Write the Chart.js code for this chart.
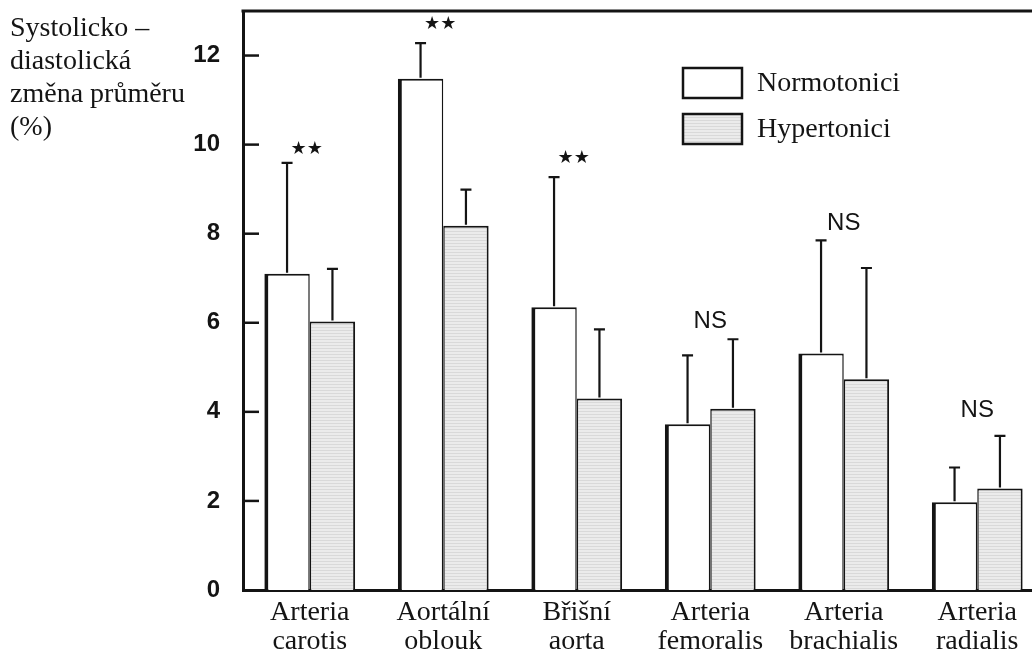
<!DOCTYPE html>
<html><head><meta charset="utf-8">
<script src="https://cdn.jsdelivr.net/npm/chart.js@4.4.1/dist/chart.umd.min.js"></script>
<style>
html,body{margin:0;padding:0;background:#fff;overflow:hidden;width:1032px;height:657px}
#wrap{width:1032px;height:657px;overflow:hidden;position:relative}
canvas{display:block}
</style></head>
<body><div id="wrap"><canvas id="c" width="1044" height="657"></canvas></div>
<script>
const categories = [["Arteria","carotis"],["Aortální","oblouk"],["Břišní","aorta"],["Arteria","femoralis"],["Arteria","brachialis"],["Arteria","radialis"]];
const seriesNames = ["Normotonici","Hypertonici"];
const normotonici = [7.1, 11.48, 6.35, 3.72, 5.31, 1.97];
const normotoniciSD = [2.49, 0.8, 2.92, 1.55, 2.54, 0.78];
const hypertonici = [6.03, 8.18, 4.30, 4.07, 4.73, 2.28];
const hypertoniciSD = [1.18, 0.81, 1.55, 1.56, 2.5, 1.18];
const significance = ["★★","★★","★★","NS","NS","NS"];
const significanceAt = [9.9, 12.7, 9.7, 6.05, 8.25, 4.05];
const yTicks = [0,2,4,6,8,10,12];
const yTitle = ["Systolicko –","diastolická","změna průměru","(%)"];

const INK = '#141414';
function makePattern(){
  const p = document.createElement('canvas'); p.width = 8; p.height = 3;
  const g = p.getContext('2d');
  g.fillStyle = '#ebebeb'; g.fillRect(0,0,8,3);
  g.fillStyle = '#d9d9d9'; g.fillRect(0,0,8,1);
  return document.getElementById('c').getContext('2d').createPattern(p,'repeat');
}
const hyperFill = makePattern();

const overlay = {
  id:'overlay',
  afterDatasetsDraw(chart){
    const {ctx, chartArea:a, scales:{x,y}} = chart;
    ctx.save();
    ctx.strokeStyle = INK; ctx.fillStyle = INK;
    // top frame line
    ctx.lineWidth = 3;
    ctx.beginPath(); ctx.moveTo(a.left-1.5, a.top); ctx.lineTo(a.right, a.top); ctx.stroke();
    // inward tick marks
    ctx.lineWidth = 2.5;
    yTicks.forEach(v=>{ if(v===0) return; const py=y.getPixelForValue(v);
      ctx.beginPath(); ctx.moveTo(a.left, py); ctx.lineTo(a.left+16, py); ctx.stroke(); });
    // error bars (upper only)
    [[0,normotoniciSD],[1,hypertoniciSD]].forEach(([di,sd])=>{
      const meta = chart.getDatasetMeta(di);
      const vals = chart.data.datasets[di].data;
      meta.data.forEach((bar,i)=>{
        const y0 = y.getPixelForValue(vals[i]);
        const y1 = y.getPixelForValue(vals[i]+sd[i]);
        ctx.lineWidth = 2.2;
        ctx.beginPath(); ctx.moveTo(bar.x, y0-1); ctx.lineTo(bar.x, y1);
        ctx.moveTo(bar.x-5.5, y1); ctx.lineTo(bar.x+5.5, y1); ctx.stroke();
      });
    });
    // significance labels
    ctx.textAlign = 'center'; ctx.textBaseline = 'middle';
    significance.forEach((s,i)=>{
      const px = x.getPixelForValue(i), py = y.getPixelForValue(significanceAt[i]);
      if (s === 'NS') { ctx.font = '24px "Liberation Sans"'; ctx.fillText(s, px, py+1); }
      else { ctx.font = 'bold 18px "DejaVu Sans"'; ctx.fillText(s, px-3, py); }
    });
    // legend
    const lx = 683, ly = [68,114], bw = 59, bh = 30;
    ctx.lineWidth = 2.5;
    ly.forEach((yy,k)=>{
      ctx.fillStyle = k===0 ? '#ffffff' : hyperFill;
      ctx.fillRect(lx, yy, bw, bh);
      ctx.strokeRect(lx, yy, bw, bh);
      ctx.fillStyle = INK;
      ctx.font = '28px "Liberation Serif"'; ctx.textAlign = 'left'; ctx.textBaseline = 'middle';
      ctx.fillText(seriesNames[k], 757, yy+bh/2+1);
    });
    // y-axis title
    ctx.font = '28px "Liberation Serif"'; ctx.textAlign = 'left'; ctx.textBaseline = 'alphabetic';
    yTitle.forEach((t,k)=> ctx.fillText(t, 10, 36 + 33*k));
    ctx.restore();
  }
};

new Chart(document.getElementById('c'), {
  type:'bar',
  data:{
    labels: categories,
    datasets:[
      {label:seriesNames[0], data:normotonici, backgroundColor:'#ffffff', borderColor:INK,
       borderWidth:{left:4, top:2, right:1.5, bottom:0}, borderSkipped:false,
       categoryPercentage:0.68, barPercentage:1.0},
      {label:seriesNames[1], data:hypertonici, backgroundColor:hyperFill, borderColor:INK,
       borderWidth:{left:1.5, top:2, right:2, bottom:0}, borderSkipped:false,
       categoryPercentage:0.68, barPercentage:1.0}
    ]
  },
  options:{
    responsive:false, animation:false, devicePixelRatio:1,
    layout:{padding:{top:11,left:0,right:0,bottom:0}},
    plugins:{legend:{display:false}, tooltip:{enabled:false}},
    scales:{
      x:{ grid:{display:false, drawTicks:false}, border:{display:true, color:INK, width:3},
          ticks:{padding:8, color:INK, maxRotation:0, autoSkip:false,
                 font:{family:'Liberation Serif', size:28, lineHeight:1.05}},
          afterFit:s=>{ s.height = 67; s.paddingLeft = 0; s.paddingRight = 0; } },
      y:{ min:0, max:13, grid:{display:false, drawTicks:false}, border:{display:true, color:INK, width:3},
          ticks:{padding:23, color:INK, font:{family:'Liberation Sans', size:24, weight:'bold'}},
          afterBuildTicks:s=>{ s.ticks = yTicks.map(v=>({value:v})); },
          afterFit:s=>{ s.width = 243; s.paddingTop = 0; s.paddingBottom = 0; } }
    }
  },
  plugins:[overlay]
});
</script>
</body></html>
